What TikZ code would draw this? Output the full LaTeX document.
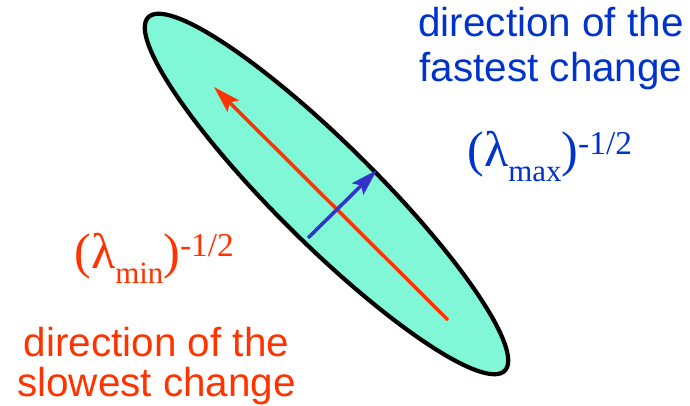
\documentclass[tikz,border=0pt]{standalone}
\usepackage{fontspec}
\setmainfont{Liberation Sans}
\newfontfamily\serifgreek{Liberation Serif}
\usetikzlibrary{arrows.meta, shapes.geometric}
\definecolor{slowred}{RGB}{255,51,0}
\definecolor{fastblue}{RGB}{0,51,204}
\definecolor{axisblue}{RGB}{51,51,204}
\definecolor{mint}{RGB}{128,247,214}
\newcommand{\dirsize}[1]{\fontsize{23}{#1}\selectfont}
\newcommand{\lampow}[1]{{\serifgreek\fontsize{28.5}{30}\selectfont
  (λ\raisebox{-0.3cm}{\fontsize{17.6}{20}\selectfont #1})%
  \raisebox{0.24cm}{\fontsize{19}{20}\selectfont -1/2}}}

\begin{document}
\begin{tikzpicture}[
    >={Stealth[length=0.54cm, width=0.32cm, inset=0.1cm]},
    ell/.style={draw, ellipse, line width=2.4pt, fill=mint, inner sep=0pt,
                minimum width=10.04cm, minimum height=2cm},
    axisarr/.style={->, line width=2pt},
    dirlbl/.style={align=center, inner sep=0pt},
    powlbl/.style={anchor=base west, inner sep=0pt},
]
\useasboundingbox (0,0) rectangle (13.8,8.12);
% === Ellipse ===
\node[ell, rotate=-44.75] (contour) at (6.53,4.24) {};
% === Principal axes ===
\coordinate (slowtail) at (8.96,1.72);
\coordinate (slowtip) at (4.28,6.38);
\coordinate (fasttail) at (6.16,3.36);
\coordinate (fasttip) at (7.54,4.72);
\draw[axisarr, slowred] (slowtail) -- (slowtip);
\draw[axisarr, axisblue] (fasttail) -- (fasttip);
% === Labels ===
\node[dirlbl, text=fastblue, font=\dirsize{25.6pt}] (fastlbl) at (11.02,7.14)
    {direction of the\\fastest change};
\node[powlbl, text=fastblue] (fastpow) at (9.34,4.78) {\lampow{max}};
\node[powlbl, text=slowred] (slowpow) at (1.48,2.74) {\lampow{min}};
\node[dirlbl, text=slowred, font=\dirsize{22.8pt}] (slowlbl) at (3.13,0.79)
    {direction of the\\slowest change};
\end{tikzpicture}
\end{document}
